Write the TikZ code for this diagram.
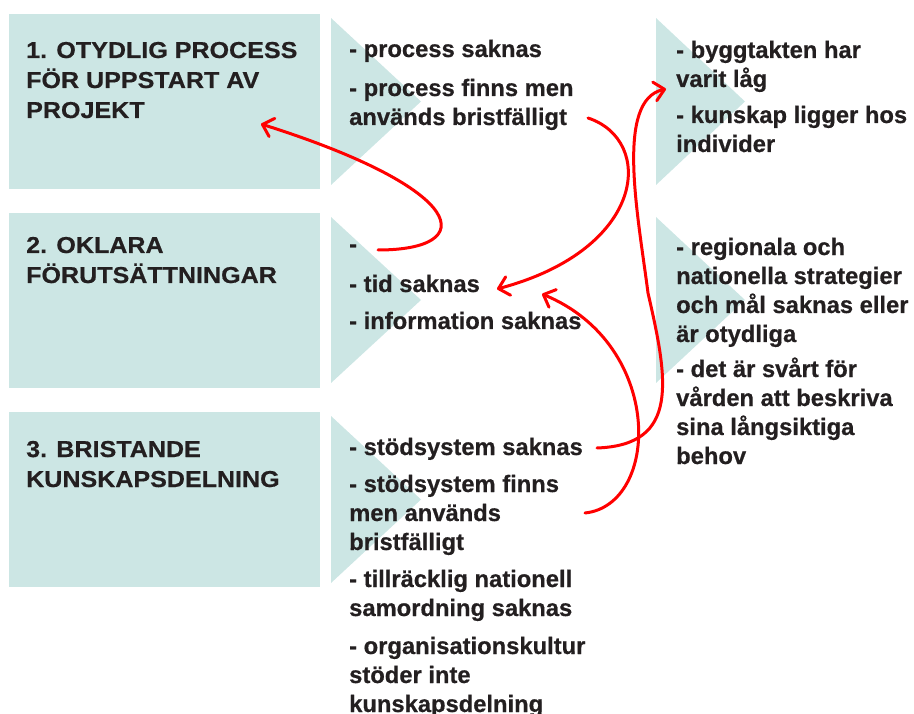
\documentclass[tikz,border=0pt]{standalone}
\usepackage{fontspec}
\setmainfont{Liberation Sans}[BoldFeatures={FakeBold=0.6}]
\newfontfamily\headfont{Liberation Sans}[FakeStretch=1.09,BoldFeatures={FakeBold=0.6}]
\usetikzlibrary{arrows.meta}

\definecolor{panel}{RGB}{204,230,228}
\definecolor{ink}{RGB}{35,31,32}
\definecolor{linkred}{RGB}{255,0,0}

% multi-line nodes are placed by the baseline of their last line
\tikzset{
  box/.style={fill=panel, draw=none, inner sep=0pt, outer sep=0pt,
    minimum width=311pt, minimum height=175pt, anchor=north west},
  tri/.style={fill=panel, draw=none},
  head/.style={anchor=base west, inner sep=0pt, align=left, text=ink,
    font=\headfont\bfseries\fontsize{23}{30}\selectfont},
  item/.style={anchor=base west, inner sep=0pt, align=left, text=ink,
    font=\bfseries\fontsize{23.75}{29}\selectfont},
  link/.style={draw=linkred, line width=3pt, line cap=round,
    -{Straight Barb[length=10pt,width=19pt,line cap=round,line join=round]}}
}

\begin{document}
\begin{tikzpicture}[x=1pt, y=-1pt]
  \useasboundingbox (0,0) rectangle (914,714);

  % category panels
  \node[box] (b1) at (9,14) {};
  \node[box] (b2) at (9,213) {};
  \node[box] (b3) at (9,412) {};

  % chevrons behind the cause lists
  \fill[tri] (331,18) -- (421,101.5) -- (331,185) -- cycle;
  \fill[tri] (331,217) -- (421,300) -- (331,383) -- cycle;
  \fill[tri] (331,416) -- (421,499.5) -- (331,583) -- cycle;
  \fill[tri] (656,18) -- (745,101.5) -- (656,185) -- cycle;
  \fill[tri] (656,217) -- (745,300) -- (656,383) -- cycle;

  % category headings
  \node[head] (h1) at (26,118) {1. OTYDLIG PROCESS\\FÖR UPPSTART AV\\PROJEKT};
  \node[head] (h2) at (26,283) {2. OKLARA\\FÖRUTSÄTTNINGAR};
  \node[head] (h3) at (26,487) {3. BRISTANDE\\KUNSKAPSDELNING};

  % causes, middle column
  \node[item] (c11) at (349,57) {- process saknas};
  \node[item] (c12) at (349,125) {- process finns men\\används bristfälligt};
  \node[item] (c21) at (349,252) {-};
  \node[item] (c22) at (349,292) {- tid saknas};
  \node[item] (c23) at (349,329) {- information saknas};
  \node[item] (c31) at (349,455) {- stödsystem saknas};
  \node[item] (c32) at (349,550) {- stödsystem finns\\men används\\bristfälligt};
  \node[item] (c33) at (349,616) {- tillräcklig nationell\\samordning saknas};
  \node[item] (c34) at (349,712) {- organisationskultur\\stöder inte\\kunskapsdelning};

  % causes, right column
  \node[item] (r11) at (676,87) {- byggtakten har\\varit låg};
  \node[item] (r12) at (676,152) {- kunskap ligger hos\\individer};
  \node[item] (r21) at (676,342) {- regionala och\\nationella strategier\\och mål saknas eller\\är otydliga};
  \node[item] (r22) at (676,464) {- det är svårt för\\vården att beskriva\\sina långsiktiga\\behov};

  % connector end points
  \coordinate (aS) at (378,250);
  \coordinate (aE) at (261,124);
  \coordinate (bS) at (588,118);
  \coordinate (bE) at (497,289);
  \coordinate (cS) at (597,448);
  \coordinate (cM) at (648,293);
  \coordinate (cE) at (666,89);
  \coordinate (dS) at (585,513);
  \coordinate (dE) at (542,294);

  % connectors
  \draw[link] (aS) .. controls (480,250) and (470,190) .. (aE);
  \draw[link] (bS) .. controls (655,140) and (647,249) .. (bE);
  \draw[link] (cS) .. controls (680,445) and (668,380) .. (cM)
                   .. controls (638,215) and (615,100) .. (cE);
  \draw[link] (dS) .. controls (660,505) and (665,345) .. (dE);
\end{tikzpicture}
\end{document}
